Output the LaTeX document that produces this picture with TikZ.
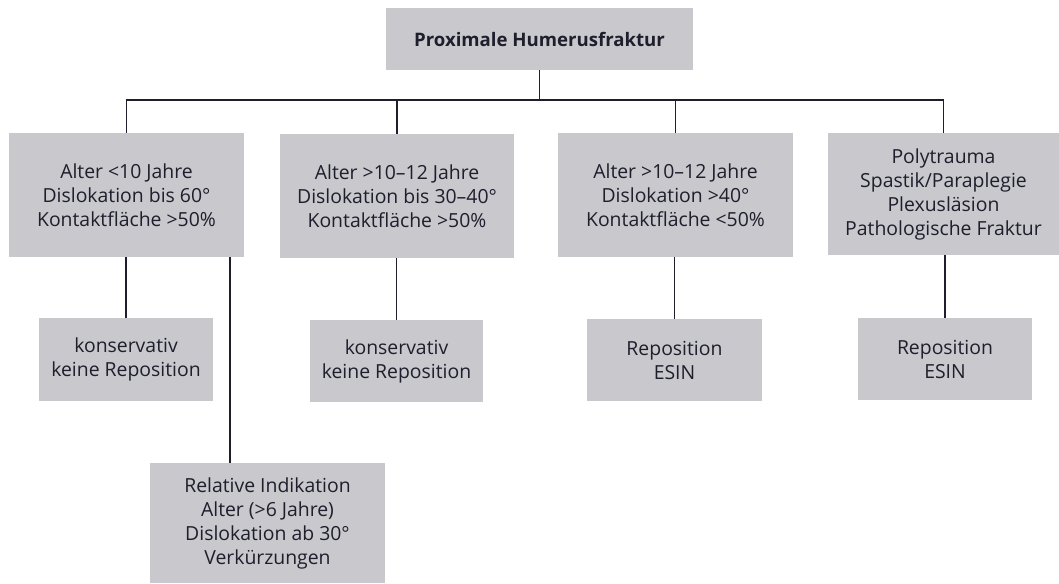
\documentclass[tikz,border=0pt]{standalone}
\usepackage{fontspec}
\setmainfont{Open Sans}
\definecolor{boxgray}{RGB}{200,200,205}
\definecolor{ink}{RGB}{30,30,45}
\begin{document}
\begin{tikzpicture}[x=1pt,y=-1pt,
  box/.style={rectangle, fill=boxgray, draw=none, inner sep=0pt, align=center,
    text=ink, font=\fontsize{19.4}{24}\selectfont},
  conn/.style={draw=ink, line width=1.2pt}]
\useasboundingbox (0,0) rectangle (1059,583);
\node[box, minimum width=307pt, minimum height=62pt, font=\fontsize{18.6}{24}\selectfont\bfseries] (top) at (539.5,39) {Proximale Humerusfraktur};
\node[box, minimum width=235pt, minimum height=124pt] (A) at (126.5,195) {Alter <10 Jahre\\Dislokation bis 60°\\Kontaktfläche >50\%};
\node[box, minimum width=234pt, minimum height=124pt] (B) at (397,196) {Alter >10–12 Jahre\\Dislokation bis 30–40°\\Kontaktfläche >50\%};
\node[box, minimum width=235pt, minimum height=124pt] (C) at (675.5,195) {Alter >10–12 Jahre\\Dislokation >40°\\Kontaktfläche <50\%};
\node[box, minimum width=231pt, minimum height=122pt] (D) at (943.5,194) {Polytrauma\\Spastik/Paraplegie\\Plexusläsion\\Pathologische Fraktur};
\node[box, minimum width=174pt, minimum height=83pt] (A2) at (126,359.5) {konservativ\\keine Reposition};
\node[box, minimum width=173pt, minimum height=82pt] (B2) at (396.5,361) {konservativ\\keine Reposition};
\node[box, minimum width=175pt, minimum height=82pt] (C2) at (674.5,360) {Reposition\\ESIN};
\node[box, minimum width=174pt, minimum height=82pt] (D2) at (945,359) {Reposition\\ESIN};
\node[box, minimum width=235pt, minimum height=120pt] (A3) at (267.5,523) {Relative Indikation\\Alter (>6 Jahre)\\Dislokation ab 30°\\Verkürzungen};
\coordinate (bus) at (0,100);
\coordinate (ax) at (230,0);
\draw[conn] (top.south) -- (top.south |- bus);
\draw[conn] (A.north) -- (A.north |- bus) -- (D.north |- bus) -- (D.north);
\draw[conn] (B.north) -- (B.north |- bus);
\draw[conn] (C.north) -- (C.north |- bus);
\draw[conn] (A2.north |- A.south) -- (A2.north);
\draw[conn] (B2.north |- B.south) -- (B2.north);
\draw[conn] (C2.north |- C.south) -- (C2.north);
\draw[conn] (D2.north |- D.south) -- (D2.north);
\draw[conn] (A.south -| ax) -- (A3.north -| ax);
\end{tikzpicture}
\end{document}
